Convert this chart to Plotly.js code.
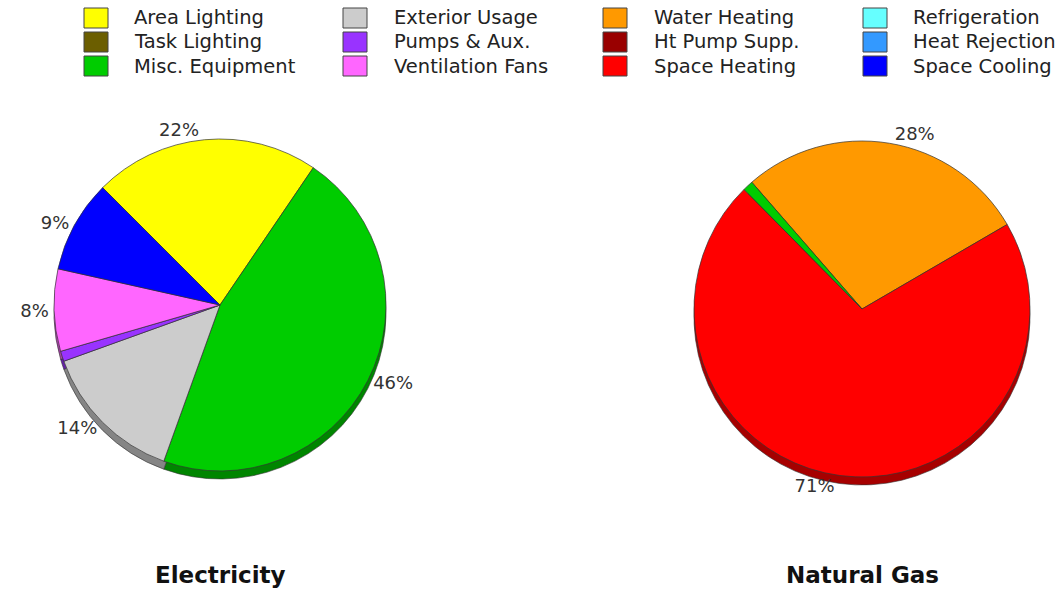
<!DOCTYPE html>
<html>
<head>
<meta charset="utf-8">
<script src="https://cdn.plot.ly/plotly-3.0.1.min.js"></script>
<style>html,body{margin:0;padding:0;background:#fff;}#chart{width:1062px;height:591px;}</style>
</head>
<body>
<div id="chart"></div>
<script>
// ---- data ----
const legendLabels = ["Area Lighting","Task Lighting","Misc. Equipment",
                      "Exterior Usage","Pumps & Aux.","Ventilation Fans",
                      "Water Heating","Ht Pump Supp.","Space Heating",
                      "Refrigeration","Heat Rejection","Space Cooling"];
const legendColors = ["#FFFF00","#6B5E00","#00CC00",
                      "#CCCCCC","#9933FF","#FF66FF",
                      "#FF9900","#990000","#FF0000",
                      "#66FFFF","#3399FF","#0000FF"];

const elecLabels = ["Area Lighting","Misc. Equipment","Exterior Usage","Pumps & Aux.","Ventilation Fans","Space Cooling"];
const elecValues = [22, 46, 14, 1, 8, 9];

const gasLabels = ["Water Heating","Space Heating","Misc. Equipment"];
const gasValues = [28, 71, 1];

const chartTitles = ["Electricity","Natural Gas"];

// ---- helpers ----
const W = 1062, H = 591;
const colorOf = l => legendColors[legendLabels.indexOf(l)];
function darken(hex, f) {
  const n = parseInt(hex.slice(1), 16);
  const r = Math.round(((n >> 16) & 255) * f), g = Math.round(((n >> 8) & 255) * f), b = Math.round((n & 255) * f);
  return "rgb(" + r + "," + g + "," + b + ")";
}
function dom(cx, cy, d) {
  return {x: [(cx - d / 2) / W, (cx + d / 2) / W], y: [1 - (cy + d / 2) / H, 1 - (cy - d / 2) / H]};
}
const pctText = v => v.map(x => x >= 5 ? x + "%" : "");

const pies = [
  {labels: elecLabels, values: elecValues, cx: 220, cy: 305, d: 332, rot: -45},
  {labels: gasLabels, values: gasValues, cx: 862, cy: 309, d: 336, rot: -41}
];

const traces = [];
pies.forEach(p => {
  // shadow (3D edge)
  traces.push({
    type: "pie", labels: p.labels, values: p.values, sort: false, direction: "clockwise",
    rotation: p.rot, domain: dom(p.cx, p.cy + 8, p.d), textinfo: "none", hoverinfo: "skip",
    marker: {colors: p.labels.map(l => darken(colorOf(l), 0.65)), line: {color: "#333", width: 0.6}},
    showlegend: false
  });
  traces.push({
    type: "pie", labels: p.labels, values: p.values, sort: false, direction: "clockwise",
    rotation: p.rot, domain: dom(p.cx, p.cy, p.d),
    text: pctText(p.values), textinfo: "text", textposition: "outside",
    outsidetextfont: {family: "DejaVu Sans, Verdana, sans-serif", size: 18, color: "#333"},
    marker: {colors: p.labels.map(colorOf), line: {color: "#333", width: 0.7}},
    showlegend: false
  });
});

// ---- custom legend ----
const colX = [84, 343, 603, 863];
const textX = [132, 392, 652, 911];
const rowY = [18, 42, 66];
const shapes = [], annotations = [];
legendLabels.forEach((lab, i) => {
  const c = Math.floor(i / 3), r = i % 3;
  shapes.push({
    type: "rect", xref: "paper", yref: "paper",
    x0: colX[c] / W, x1: (colX[c] + 24) / W,
    y0: 1 - (rowY[r] + 10) / H, y1: 1 - (rowY[r] - 10) / H,
    fillcolor: legendColors[i], line: {color: "#444", width: 1}
  });
  annotations.push({
    xref: "paper", yref: "paper", x: textX[c] / W, y: 1 - rowY[r] / H,
    xanchor: "left", yanchor: "middle", showarrow: false, text: lab,
    font: {family: "DejaVu Sans, Verdana, sans-serif", size: 19.5, color: "#222"}
  });
});
chartTitles.forEach((t, i) => {
  annotations.push({
    xref: "paper", yref: "paper", x: pies[i].cx / W, y: 1 - 575 / H,
    xanchor: "center", yanchor: "middle", showarrow: false, text: "<b>" + t + "</b>",
    font: {family: "DejaVu Sans, Verdana, sans-serif", size: 23, color: "#111"}
  });
});

Plotly.newPlot("chart", traces, {
  width: W, height: H, margin: {l: 0, r: 0, t: 0, b: 0},
  paper_bgcolor: "#fff", plot_bgcolor: "#fff",
  showlegend: false, shapes: shapes, annotations: annotations
}, {displayModeBar: false, staticPlot: true});
</script>
</body>
</html>
